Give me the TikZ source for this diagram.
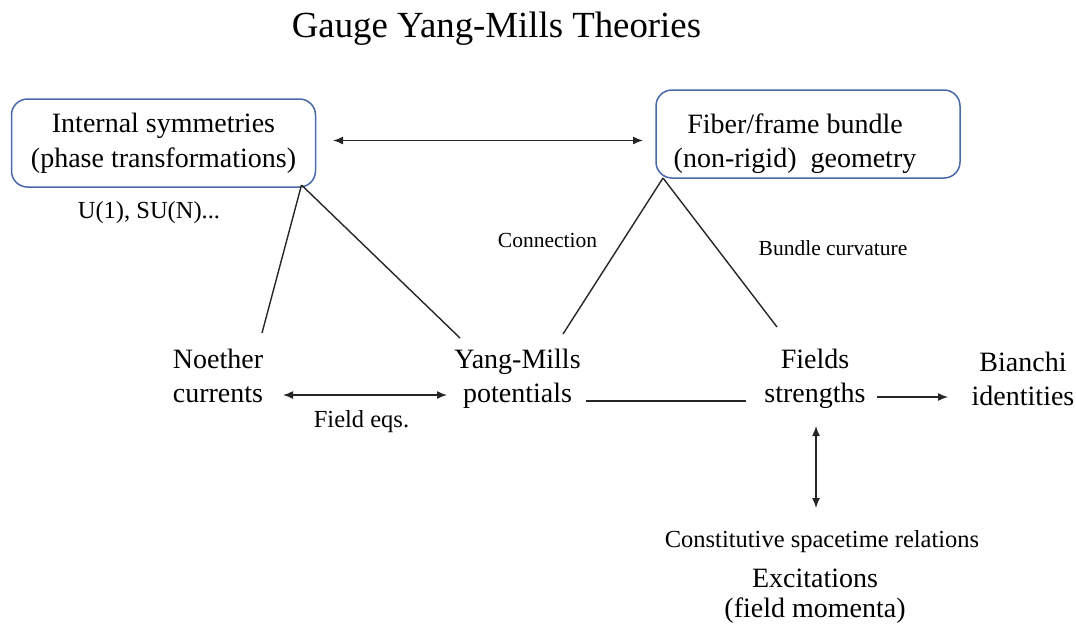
\documentclass[tikz,border=0pt]{standalone}
\usepackage{fontspec}
\setmainfont{Liberation Serif}
\usetikzlibrary{arrows.meta}
\definecolor{boxblue}{RGB}{72,104,168}
\begin{document}
\begin{tikzpicture}[x=1pt,y=-1pt,
  lbl/.style={font=\fontsize{28}{34}\selectfont, align=center, inner sep=0pt},
  lblb/.style={font=\fontsize{28}{30}\selectfont, align=center, inner sep=0pt},
  smalltxt/.style={font=\fontsize{21.5}{25}\selectfont, inner sep=0pt, anchor=base},
  midtxt/.style={font=\fontsize{24.5}{29}\selectfont, inner sep=0pt, anchor=base},
  bbox/.style={draw=boxblue, line width=1.5pt, rounded corners=16pt, minimum width=304pt, minimum height=88pt, inner sep=0pt},
  conn/.style={line width=1.4pt, draw=black!85},
  arr/.style={conn, -{Latex[length=10pt,width=8pt]}},
  darr/.style={conn, {Latex[length=10pt,width=8pt]}-{Latex[length=10pt,width=8pt]}}]
\useasboundingbox (0,0) rectangle (1076,625);

% title
\node[font=\fontsize{36.8}{40}\selectfont, inner sep=0pt, anchor=base] (title) at (496.5,37) {Gauge Yang-Mills Theories};

% boxes
\node[bbox, lbl, font=\fontsize{28}{35}\selectfont] (box1) at (163.5,143) {Internal symmetries\\(phase transformations)};
\node[bbox] (box2) at (808,134) {};
\node[lbl] (box2txt) at (795,143.5) {Fiber/frame bundle\\(non-rigid)\ \ geometry};

% small labels
\node[midtxt] (groups) at (149,218) {U(1), SU(N)...};
\node[smalltxt] (connlbl) at (547.5,247) {Connection};
\node[smalltxt] (curvlbl) at (833,255) {Bundle curvature};
\node[midtxt] (fieldeqs) at (361.5,427) {Field eqs.};
\node[midtxt] (constit) at (822,547) {Constitutive spacetime relations};

% main labels
\node[lbl] (noether) at (218,375.5) {Noether\\currents};
\node[lbl] (ym) at (517.5,378.5) {Yang-Mills\\potentials};
\node[lbl] (fields) at (815,378.5) {Fields\\strengths};
\node[lbl] (bianchi) at (1023,379) {Bianchi\\identities};
\node[lblb] (excit) at (815,596) {Excitations\\(field momenta)};

% junction and end coordinates
\coordinate (j1) at (301.5,185);
\coordinate (j2) at (663,178);
\coordinate (noetherTop) at (262,333);
\coordinate (ymTop) at (460,338);
\coordinate (ymTopR) at (563,334);
\coordinate (fieldsTop) at (777,327);
\coordinate (b1r) at (333,140.5);
\coordinate (b2l) at (643,140.5);
\coordinate (noeR) at (283,395);
\coordinate (ymL) at (447,395);
\coordinate (ymR) at (586,401);
\coordinate (fiL) at (746,401);
\coordinate (fiR) at (877,397);
\coordinate (biL) at (948,397);
\coordinate (fiB) at (816,426);
\coordinate (exT) at (816,508);

% connectors
\draw[darr] (b1r) -- (b2l);
\draw[conn] (j1) -- (noetherTop);
\draw[conn] (j1) -- (ymTop);
\draw[conn] (j2) -- (ymTopR);
\draw[conn] (j2) -- (fieldsTop);
\draw[darr] (noeR) -- (ymL);
\draw[conn] (ymR) -- (fiL);
\draw[arr] (fiR) -- (biL);
\draw[darr] (fiB) -- (exT);
\end{tikzpicture}
\end{document}
